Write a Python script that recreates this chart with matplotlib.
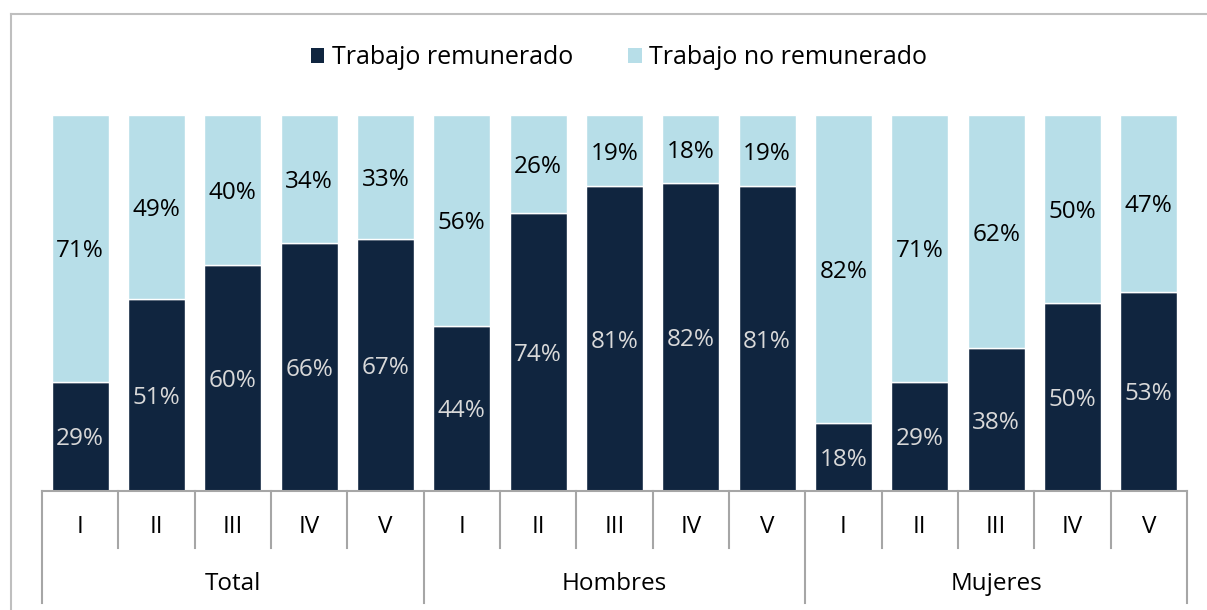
import matplotlib
matplotlib.use("Agg")
import matplotlib.pyplot as plt
from matplotlib.patches import Patch
from matplotlib.lines import Line2D
import matplotlib.transforms as mtransforms

plt.rcParams['font.family'] = ['Open Sans', 'DejaVu Sans']

groups = ["Total", "Hombres", "Mujeres"]
quintiles = ["I", "II", "III", "IV", "V"]
paid = [29, 51, 60, 66, 67, 44, 74, 81, 82, 81, 18, 29, 38, 50, 53]
unpaid = [71, 49, 40, 34, 33, 56, 26, 19, 18, 19, 82, 71, 62, 50, 47]
series_names = ["Trabajo remunerado", "Trabajo no remunerado"]

dark = "#10253F"
light = "#B7DEE8"
axis_gray = "#A6A6A6"

W, H = 1207, 610
fig = plt.figure(figsize=(W / 100, H / 100), dpi=100)
ax = fig.add_axes([42 / W, (H - 491) / H, (1187 - 42) / W, (491 - 115) / H])

n = len(paid)
x = list(range(n))
ax.bar(x, paid, width=0.75, color=dark, edgecolor="white", linewidth=1.0)
ax.bar(x, unpaid, width=0.75, bottom=paid, color=light, edgecolor="white", linewidth=1.0)

fs = 17.5
tlab = mtransforms.offset_copy(ax.transData, fig=fig, x=0, y=-3, units="dots")
for i in range(n):
    ax.text(i, paid[i] / 2, f"{paid[i]}%", ha="center", va="center",
            color="#D9D9D9", fontsize=fs, transform=tlab)
    ax.text(i, paid[i] + unpaid[i] / 2, f"{unpaid[i]}%", ha="center", va="center",
            color="black", fontsize=fs, transform=tlab)

ax.set_xlim(-0.5, n - 0.5)
ax.set_ylim(0, 100)
ax.axis("off")

trans = mtransforms.blended_transform_factory(ax.transData, ax.transAxes)
ax.add_line(Line2D([-0.5, n - 0.5], [0, 0], transform=trans, color=axis_gray,
                   lw=1.5, clip_on=False))
short = -(548 - 491) / 376
long_ = -(603 - 491) / 376
for k in range(n + 1):
    xv = k - 0.5
    yb = long_ if k % 5 == 0 else short
    ax.add_line(Line2D([xv, xv], [0, yb], transform=trans, color=axis_gray,
                       lw=1.5, clip_on=False))

for i in range(n):
    ax.text(i, -(527 - 491) / 376, quintiles[i % 5], transform=trans,
            ha="center", va="center", fontsize=fs, color="black")
for g, name in enumerate(groups):
    ax.text(g * 5 + 2, -(584 - 491) / 376, name, transform=trans,
            ha="center", va="center", fontsize=fs, color="black")

handles = [Patch(facecolor=dark, edgecolor="none"), Patch(facecolor=light, edgecolor="none")]
fig.legend(handles, series_names, loc="center", bbox_to_anchor=(619 / W, (H - 58) / H),
           ncol=2, frameon=False, fontsize=18, handlelength=0.55, handleheight=0.55,
           handletextpad=0.3, columnspacing=2.2)

fig.add_artist(Line2D([10.5 / W, 10.5 / W], [0, (H - 14) / H], transform=fig.transFigure,
                      color="#BFBFBF", lw=1.5))
fig.add_artist(Line2D([10.5 / W, 1], [(H - 14) / H, (H - 14) / H], transform=fig.transFigure,
                      color="#BFBFBF", lw=1.5))

fig.savefig("out.png", dpi=100, facecolor="white")
